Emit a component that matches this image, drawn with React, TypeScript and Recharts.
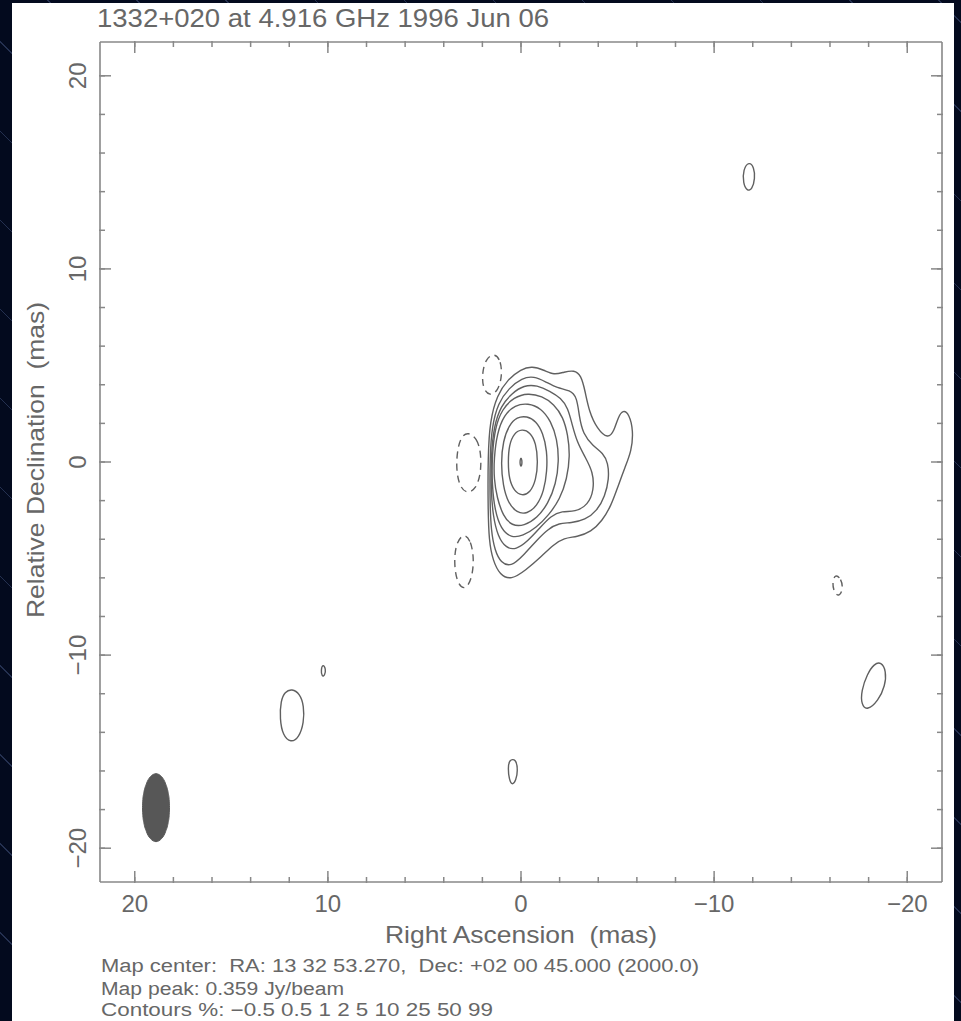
import React from 'react';
import { ComposedChart, Line, Area, XAxis, YAxis } from 'recharts';

// ---- Map data (offsets in milliarcseconds: [RA, Dec]) ----

// Positive contours of the main component, outermost (0.5%) to peak (99%)
const CONTOUR_0_5: [number, number][] = [
  [1.71, 0.31], [1.61, 2.12], [1.24, 3.47], [0.67, 4.29], [0.0, 4.81], [-0.57, 4.97],
  [-1.19, 4.76], [-1.71, 4.5], [-2.23, 4.66], [-2.75, 4.76], [-3.11, 4.5], [-3.32, 3.67],
  [-3.52, 2.64], [-3.94, 1.71], [-4.51, 1.19], [-4.82, 1.6], [-5.03, 2.33], [-5.28, 2.7],
  [-5.6, 2.5], [-5.82, 1.6], [-5.72, 0.57], [-5.39, -0.26], [-5.03, -1.24], [-4.66, -2.28],
  [-4.2, -3.05], [-3.63, -3.62], [-2.9, -3.88], [-2.23, -3.93], [-1.66, -4.29], [-1.04, -4.91],
  [-0.26, -5.59], [0.52, -6.12], [1.09, -5.85], [1.45, -5.12], [1.66, -4.09], [1.71, -2.28],
];
const CONTOUR_1: [number, number][] = [
  [1.61, 0.31], [1.5, 1.86], [1.19, 3.05], [0.62, 3.83], [-0.05, 4.35], [-0.67, 4.45],
  [-1.3, 4.14], [-1.87, 3.83], [-2.54, 3.72], [-2.9, 3.36], [-3.01, 2.38], [-3.21, 1.45],
  [-3.73, 0.83], [-4.25, 0.47], [-4.51, -0.05], [-4.56, -0.88], [-4.35, -1.76], [-3.94, -2.53],
  [-3.32, -3.0], [-2.59, -3.16], [-1.97, -3.16], [-1.4, -3.47], [-0.78, -4.09], [-0.1, -4.86],
  [0.52, -5.43], [1.04, -5.22], [1.35, -4.6], [1.55, -3.57], [1.61, -2.02],
];
const CONTOUR_2: [number, number][] = [
  [1.55, 0.31], [1.4, 1.86], [1.04, 2.9], [0.47, 3.57], [-0.16, 3.98], [-0.83, 3.98],
  [-1.5, 3.67], [-2.07, 3.31], [-2.43, 2.79], [-2.64, 1.97], [-2.9, 1.03], [-3.32, 0.26],
  [-3.73, -0.52], [-3.78, -1.45], [-3.47, -2.22], [-2.8, -2.59], [-2.12, -2.53], [-1.55, -2.79],
  [-0.98, -3.41], [-0.36, -4.09], [0.26, -4.55], [0.78, -4.45], [1.19, -3.88], [1.45, -2.79],
  [1.55, -1.5],
];
const CONTOUR_5: [number, number][] = [
  [1.5, 0.31], [1.35, 1.76], [0.98, 2.74], [0.36, 3.36], [-0.36, 3.57], [-1.09, 3.41],
  [-1.71, 3.0], [-2.18, 2.33], [-2.43, 1.4], [-2.54, 0.31], [-2.38, -0.88], [-2.02, -1.91],
  [-1.45, -2.74], [-0.78, -3.41], [-0.1, -3.83], [0.52, -3.93], [1.04, -3.47], [1.35, -2.53],
  [1.5, -1.24],
];
const CONTOUR_10: [number, number][] = [
  [1.4, 0.16], [1.24, 1.5], [0.88, 2.43], [0.31, 2.95], [-0.36, 3.05], [-1.04, 2.79],
  [-1.55, 2.12], [-1.87, 1.19], [-1.97, 0.05], [-1.81, -1.14], [-1.4, -2.17], [-0.83, -2.9],
  [-0.16, -3.31], [0.47, -3.31], [0.93, -2.79], [1.24, -1.86], [1.4, -0.88],
];
const CONTOUR_25: [number, number][] = [
  [1.04, -0.05], [0.93, 1.09], [0.62, 1.91], [0.21, 2.33], [-0.31, 2.38], [-0.78, 2.12],
  [-1.14, 1.5], [-1.35, 0.57], [-1.35, -0.47], [-1.19, -1.5], [-0.83, -2.28], [-0.31, -2.69],
  [0.21, -2.64], [0.67, -2.12], [0.93, -1.24],
];
const CONTOUR_50: [number, number][] = [
  [0.67, 0.0], [0.62, 0.88], [0.36, 1.5], [-0.05, 1.71], [-0.47, 1.55], [-0.78, 0.98],
  [-0.88, 0.0], [-0.78, -0.93], [-0.47, -1.6], [-0.05, -1.76], [0.36, -1.5], [0.62, -0.88],
];
const CONTOUR_99: [number, number][] = [
  [0.0, 0.24], [-0.05, 0.1], [-0.05, -0.12], [0.0, -0.26], [0.05, -0.12], [0.05, 0.1],
];

// Isolated positive islands
const ISLAND_NE: [number, number][] = [
  [-11.81, 15.57], [-12.07, 15.26], [-12.12, 14.69], [-11.97, 14.12], [-11.71, 14.02],
  [-11.5, 14.43], [-11.5, 15.15],
];
const ISLAND_SW_SMALL: [number, number][] = [
  [10.26, -10.45], [10.1, -10.71], [10.16, -11.07], [10.31, -11.12], [10.36, -10.76],
];
const ISLAND_SW: [number, number][] = [
  [11.86, -11.74], [11.45, -12.0], [11.24, -12.62], [11.24, -13.5], [11.5, -14.28],
  [11.92, -14.54], [12.33, -14.17], [12.49, -13.3], [12.44, -12.36], [12.23, -11.9],
];
const ISLAND_S: [number, number][] = [
  [0.62, -15.42], [0.26, -15.36], [0.16, -15.98], [0.26, -16.5], [0.47, -16.76],
  [0.62, -16.4], [0.67, -15.88],
];
const ISLAND_SE: [number, number][] = [
  [-18.65, -10.35], [-18.91, -10.81], [-18.86, -11.59], [-18.5, -12.36], [-17.93, -12.88],
  [-17.62, -12.57], [-17.62, -11.85], [-17.93, -10.97], [-18.29, -10.45],
];

// Negative (-0.5%) contours
const NEG_NORTH: [number, number][] = [
  [1.35, 5.64], [1.04, 5.22], [0.98, 4.45], [1.19, 3.67], [1.61, 3.41], [1.97, 3.78],
  [2.02, 4.6], [1.81, 5.38],
];
const NEG_EAST: [number, number][] = [
  [2.75, 1.55], [2.28, 1.24], [2.07, 0.47], [2.07, -0.57], [2.33, -1.4], [2.8, -1.66],
  [3.21, -1.24], [3.37, -0.21], [3.26, 0.83], [3.06, 1.34],
];
const NEG_SOUTH: [number, number][] = [
  [2.95, -3.67], [2.59, -4.09], [2.43, -5.02], [2.54, -6.05], [2.9, -6.67], [3.32, -6.26],
  [3.47, -5.22], [3.37, -4.19],
];
const NEG_FAR: [number, number][] = [
  [-16.27, -5.79], [-16.58, -6.05], [-16.68, -6.57], [-16.48, -6.98], [-16.22, -6.78],
  [-16.11, -6.26],
];

// Restoring beam outline: RA, [Dec low, Dec high]
const BEAM_RA = [19.6, 19.58, 19.53, 19.4, 19.2, 18.9, 18.6, 18.4, 18.27, 18.22, 18.2];
const BEAM_LOW = [-17.9, -18.32, -18.67, -19.13, -19.49, -19.66, -19.49, -19.13, -18.67, -18.32, -17.9];
const BEAM_HIGH = [-17.9, -17.48, -17.13, -16.67, -16.31, -16.14, -16.31, -16.67, -17.13, -17.48, -17.9];

// Axes
const MAJOR_TICKS = [-20, -10, 0, 10, 20];
const MINOR_TICKS = [-20, -18, -16, -14, -12, -10, -8, -6, -4, -2, 0, 2, 4, 6, 8, 10, 12, 14, 16, 18, 20];
const RA_DOMAIN: [number, number] = [-21.8, 21.8];
const DEC_DOMAIN: [number, number] = [-21.75, 21.75];

// Text
const TITLE = '1332+020 at 4.916 GHz 1996 Jun 06';
const X_LABEL = 'Right Ascension  (mas)';
const Y_LABEL = 'Relative Declination  (mas)';
const MAP_CENTER = 'Map center:  RA: 13 32 53.270,  Dec: +02 00 45.000 (2000.0)';
const MAP_PEAK = 'Map peak: 0.359 Jy/beam';
const CONTOUR_LEVELS = ['\u22120.5', '0.5', '1', '2', '5', '10', '25', '50', '99'];

// ---- Styling ----
const FONT = "'Liberation Sans', Arial, sans-serif";
const TEXT_COLOR = '#676767';
const AXIS_COLOR = '#888888';
const LINE_COLOR = '#606060';
const BEAM_COLOR = '#575757';

const toPoints = (arr: [number, number][]) => arr.map(([x, y]) => ({ x, y }));

const positiveContours = [
  CONTOUR_0_5, CONTOUR_1, CONTOUR_2, CONTOUR_5, CONTOUR_10, CONTOUR_25, CONTOUR_50, CONTOUR_99,
  ISLAND_NE, ISLAND_SW_SMALL, ISLAND_SW, ISLAND_S, ISLAND_SE,
];
const negativeContours = [NEG_NORTH, NEG_EAST, NEG_SOUTH, NEG_FAR];

const beamData = BEAM_RA.map((x, i) => ({ x, range: [BEAM_LOW[i], BEAM_HIGH[i]] }));

const fmt = (v: number) => (v < 0 ? `\u2212${-v}` : `${v}`);

const XTick = (props: any) => {
  const { x, y, payload } = props;
  return (
    <text x={x} y={y + 17} textAnchor="middle" fontSize={24} fontFamily={FONT} fill={TEXT_COLOR}>
      {fmt(payload.value)}
    </text>
  );
};

const YTick = (props: any) => {
  const { x, y, payload } = props;
  return (
    <text
      x={x}
      y={y}
      transform={`rotate(-90 ${x} ${y})`}
      textAnchor="middle"
      fontSize={24}
      fontFamily={FONT}
      fill={TEXT_COLOR}
    >
      {fmt(payload.value)}
    </text>
  );
};

const NoTick = () => <g />;

const tickStyle = { stroke: AXIS_COLOR, strokeWidth: 1.5 };
const axisStyle = { stroke: AXIS_COLOR, strokeWidth: 1.6 };

// shared props of every frame axis
const xCommon = {
  dataKey: 'x',
  type: 'number' as const,
  domain: RA_DOMAIN,
  allowDataOverflow: true,
  reversed: true,
  height: 1,
  interval: 0 as const,
  tickLine: tickStyle,
};
const yCommon = {
  type: 'number' as const,
  domain: DEC_DOMAIN,
  allowDataOverflow: true,
  width: 1,
  interval: 0 as const,
  tickLine: tickStyle,
};

export default function App() {
  return (
    <div
      style={{
        position: 'fixed',
        left: 0,
        top: 0,
        width: 961,
        height: 1021,
        overflow: 'hidden',
        background:
          'repeating-linear-gradient(45deg, #030a1e 0px, #030a1e 62px, #243050 62px, #243050 63px)',
      }}
    >
      <div style={{ position: 'absolute', left: 12, top: 3, width: 942, height: 1018, background: '#ffffff' }} />
      <div style={{ position: 'absolute', left: 0, top: 0 }}>
        <ComposedChart width={961} height={1021} margin={{ top: 40, right: 17, bottom: 137, left: 98 }}>
          {/* frame: major ticks (with labels on bottom/left), then minor ticks */}
          <XAxis
            {...xCommon}
            xAxisId="b"
            orientation="bottom"
            ticks={MAJOR_TICKS}
            tickSize={-11}
            tickMargin={24}
            tick={<XTick />}
            axisLine={axisStyle}
          />
          <XAxis
            {...xCommon}
            xAxisId="bm"
            orientation="bottom"
            ticks={MINOR_TICKS}
            tickSize={-6}
            tick={<NoTick />}
            axisLine={false}
          />
          <XAxis
            {...xCommon}
            xAxisId="t"
            orientation="top"
            ticks={MAJOR_TICKS}
            tickSize={-11}
            tick={<NoTick />}
            axisLine={axisStyle}
          />
          <XAxis
            {...xCommon}
            xAxisId="tm"
            orientation="top"
            ticks={MINOR_TICKS}
            tickSize={-6}
            tick={<NoTick />}
            axisLine={false}
          />
          <YAxis
            {...yCommon}
            yAxisId="l"
            orientation="left"
            ticks={MAJOR_TICKS}
            tickSize={-11}
            tickMargin={25}
            tick={<YTick />}
            axisLine={axisStyle}
          />
          <YAxis
            {...yCommon}
            yAxisId="lm"
            orientation="left"
            ticks={MINOR_TICKS}
            tickSize={-6}
            tick={<NoTick />}
            axisLine={false}
          />
          <YAxis
            {...yCommon}
            yAxisId="r"
            orientation="right"
            ticks={MAJOR_TICKS}
            tickSize={-11}
            tick={<NoTick />}
            axisLine={axisStyle}
          />
          <YAxis
            {...yCommon}
            yAxisId="rm"
            orientation="right"
            ticks={MINOR_TICKS}
            tickSize={-6}
            tick={<NoTick />}
            axisLine={false}
          />

          {/* restoring beam */}
          <Area
            data={beamData}
            dataKey="range"
            xAxisId="b"
            yAxisId="l"
            type="monotone"
            stroke={BEAM_COLOR}
            strokeWidth={1}
            fill={BEAM_COLOR}
            fillOpacity={1}
            dot={false}
            activeDot={false}
            isAnimationActive={false}
          />

          {positiveContours.map((c, i) => (
            <Line
              key={`p${i}`}
              data={toPoints(c)}
              dataKey="y"
              xAxisId="b"
              yAxisId="l"
              type="basisClosed"
              stroke={LINE_COLOR}
              strokeWidth={1.4}
              dot={false}
              activeDot={false}
              isAnimationActive={false}
            />
          ))}
          {negativeContours.map((c, i) => (
            <Line
              key={`n${i}`}
              data={toPoints(c)}
              dataKey="y"
              xAxisId="b"
              yAxisId="l"
              type="basisClosed"
              stroke={LINE_COLOR}
              strokeWidth={1.4}
              strokeDasharray="7 5"
              dot={false}
              activeDot={false}
              isAnimationActive={false}
            />
          ))}
        </ComposedChart>
      </div>

      {/* title, axis titles and map annotations */}
      <svg
        width={961}
        height={1021}
        style={{ position: 'absolute', left: 0, top: 0, pointerEvents: 'none' }}
        fontFamily={FONT}
        fill={TEXT_COLOR}
      >
        <text x={97} y={27} fontSize={25} textLength={452} lengthAdjust="spacingAndGlyphs">
          {TITLE}
        </text>
        <text
          x={385}
          y={943}
          fontSize={24}
          textLength={272}
          lengthAdjust="spacingAndGlyphs"
          style={{ whiteSpace: 'pre' }}
        >
          {X_LABEL}
        </text>
        <text
          x={44}
          y={618}
          transform="rotate(-90 44 618)"
          fontSize={24}
          textLength={316}
          lengthAdjust="spacingAndGlyphs"
          style={{ whiteSpace: 'pre' }}
        >
          {Y_LABEL}
        </text>
        <text x={101} y={972} fontSize={18} textLength={598} lengthAdjust="spacingAndGlyphs" style={{ whiteSpace: 'pre' }}>
          {MAP_CENTER}
        </text>
        <text x={101} y={995} fontSize={18} textLength={243} lengthAdjust="spacingAndGlyphs">
          {MAP_PEAK}
        </text>
        <text x={101} y={1016} fontSize={18} textLength={392} lengthAdjust="spacingAndGlyphs">
          {`Contours %: ${CONTOUR_LEVELS.join(' ')}`}
        </text>
      </svg>
    </div>
  );
}
